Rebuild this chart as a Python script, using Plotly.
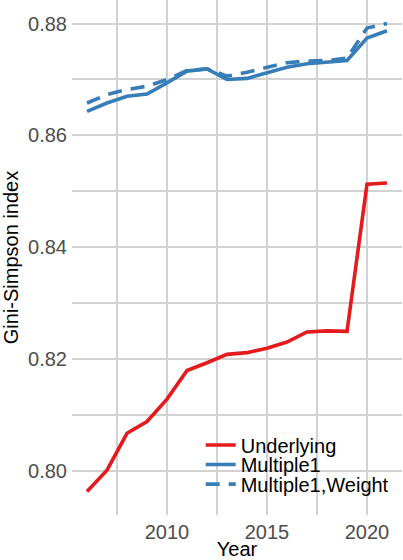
import plotly.graph_objects as go

# Annual Gini-Simpson diversity index, 2006-2021
years = list(range(2006, 2022))
underlying = [0.7964, 0.8002, 0.8068, 0.8089, 0.8129, 0.8180, 0.8194, 0.8209,
              0.8212, 0.8220, 0.8231, 0.8249, 0.8251, 0.8250, 0.8513, 0.8515]
multiple1 = [0.8643, 0.8658, 0.8670, 0.8674, 0.8694, 0.8715, 0.8719, 0.8700,
             0.8702, 0.8712, 0.8722, 0.8728, 0.8731, 0.8734, 0.8774, 0.8787]
multiple1_weight = [0.8658, 0.8673, 0.8682, 0.8688, 0.8700, 0.8716, 0.8719, 0.8706,
                    0.8713, 0.8721, 0.8730, 0.8733, 0.8734, 0.8738, 0.8792, 0.8800]

series_names = ["Underlying", "Multiple1", "Multiple1,Weight"]
RED = "#E41A1C"
BLUE = "#377EB8"
GRID = "#d2d2d2"
FONT = "Liberation Sans, Arial, sans-serif"

fig = go.Figure()
fig.add_trace(go.Scatter(x=years, y=underlying, mode="lines", name=series_names[0],
                         line=dict(color=RED, width=3.6), legend="legend", showlegend=True))
fig.add_trace(go.Scatter(x=years, y=multiple1, mode="lines", name=series_names[1],
                         line=dict(color=BLUE, width=3.6), legend="legend2", showlegend=True))
fig.add_trace(go.Scatter(x=years, y=multiple1_weight, mode="lines", name=series_names[2],
                         line=dict(color=BLUE, width=3.6, dash="14px,9px"), legend="legend3",
                         showlegend=True))

# each legend entry is placed separately so the rows sit close together
legend_style = dict(x=0.39, xanchor="left", yanchor="middle", bgcolor="rgba(0,0,0,0)",
                    font=dict(size=20, color="black", family=FONT), itemwidth=30, visible=True)

fig.update_layout(
    width=403, height=560,
    margin=dict(l=72, r=1, t=0, b=45),
    paper_bgcolor="white", plot_bgcolor="white",
    font=dict(family=FONT, size=20, color="#4d4d4d"),
    showlegend=True,
    legend=dict(y=0.136, **legend_style),
    legend2=dict(y=0.098, **legend_style),
    legend3=dict(y=0.060, **legend_style),
    xaxis=dict(
        range=[2005.25, 2021.75], tick0=2010, dtick=5, ticks="",
        showgrid=True, gridcolor=GRID, gridwidth=1.6, zeroline=False, showline=False,
        ticklabelstandoff=3,
        minor=dict(tick0=2010, dtick=2.5, showgrid=True, gridcolor=GRID, gridwidth=1.6),
        title=dict(text="Year", font=dict(size=20, color="black"), standoff=2),
    ),
    yaxis=dict(
        range=[0.7922, 0.8842], tick0=0.8, dtick=0.02, tickformat=".2f", ticks="",
        showgrid=True, gridcolor=GRID, gridwidth=1.6, zeroline=False, showline=False,
        ticklabelstandoff=4,
        minor=dict(tick0=0.8, dtick=0.01, showgrid=True, gridcolor=GRID, gridwidth=1.6),
        title=dict(text="Gini-Simpson index", font=dict(size=20, color="black"), standoff=4),
    ),
)

fig.write_html("out.html")
